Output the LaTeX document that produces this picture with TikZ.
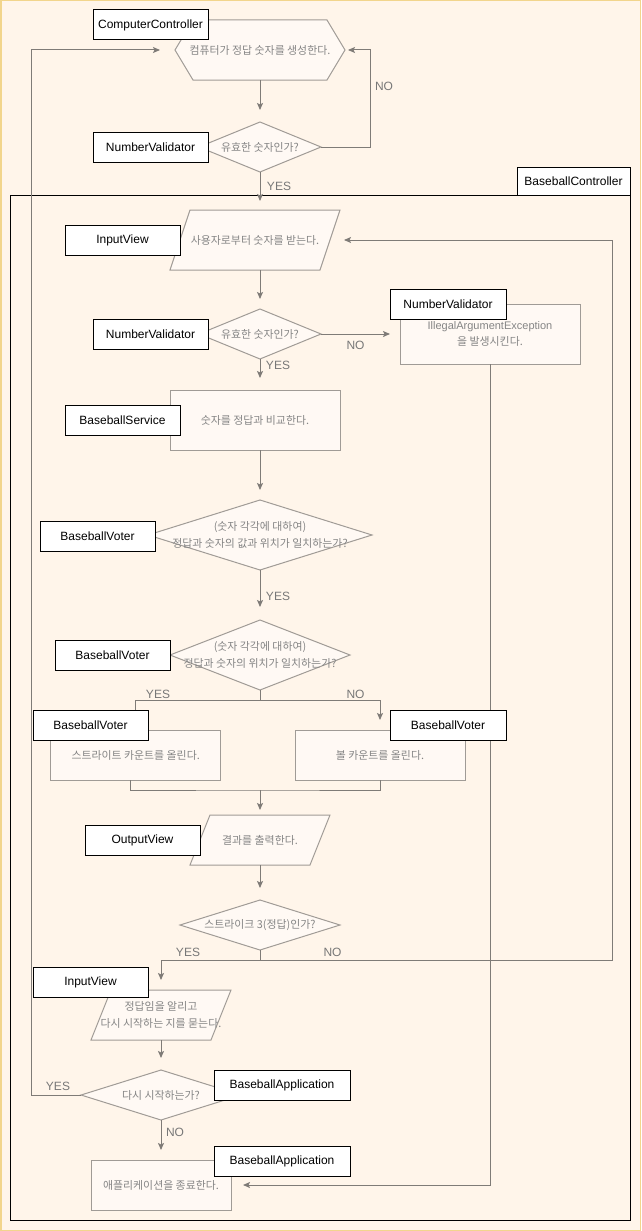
\documentclass[tikz,border=0pt]{standalone}
\usepackage{fontspec}
\setmainfont{Liberation Sans}
\newfontfamily\krfont{Noto Sans CJK KR}
\newfontfamily\latinfont{Liberation Sans}
\usetikzlibrary{arrows.meta}

\definecolor{pagebg}{HTML}{FFF5EA}
\definecolor{pageedge}{HTML}{F2D58C}
\definecolor{shapefill}{HTML}{FFF9F4}
\definecolor{shapeline}{HTML}{A09B96}
\definecolor{shapetext}{HTML}{858585}
\definecolor{wire}{HTML}{7F7B77}
\definecolor{ansc}{HTML}{777777}

\pgfdeclarelayer{back}
\pgfdeclarelayer{shapes}
\pgfsetlayers{back,shapes,main}

\newcommand\lat[1]{{\latinfont\fontsize{11}{16.5}\selectfont #1}}

\tikzset{
  lbl/.style={draw=black, fill=white, line width=1pt, inner sep=0pt, outer sep=0pt,
    minimum width=115pt, minimum height=30pt, font=\fontsize{12}{14}\selectfont, text=black},
  hold/.style={inner sep=0pt, outer sep=0pt, align=center, text=shapetext,
    font=\krfont\fontsize{10.9}{16.5}\selectfont},
  boxnode/.style={hold, draw=shapeline, fill=shapefill, line width=1pt},
  shp/.style={draw=shapeline, fill=shapefill, line width=1pt},
  wireln/.style={draw=wire, line width=1pt},
  arr/.style={wireln, -{Stealth[length=7pt,width=6pt,inset=1.5pt]}, shorten >=#1},
  arr/.default=10pt,
  ans/.style={text=ansc, font=\fontsize{12}{14}\selectfont, inner sep=0pt}
}

% outline helpers for shapes drawn around a named holder node
\newcommand\diamondof[1]{%
  \begin{pgfonlayer}{shapes}
    \path[shp] (#1.north) -- (#1.east) -- (#1.south) -- (#1.west) -- cycle;
  \end{pgfonlayer}}
\newcommand\slantof[2]{%
  \begin{pgfonlayer}{shapes}
    \path[shp] ([xshift=#2pt]#1.north west) -- (#1.north east)
      -- ([xshift=-#2pt]#1.south east) -- (#1.south west) -- cycle;
  \end{pgfonlayer}}
\newcommand\hexof[2]{%
  \begin{pgfonlayer}{shapes}
    \path[shp] (#1.west) -- ([xshift=#2pt]#1.north west) -- ([xshift=-#2pt]#1.north east)
      -- (#1.east) -- ([xshift=-#2pt]#1.south east) -- ([xshift=#2pt]#1.south west) -- cycle;
  \end{pgfonlayer}}

\begin{document}
\begin{tikzpicture}[x=1pt,y=-1pt]
\useasboundingbox (0,0) rectangle (641,1231);
\begin{pgfonlayer}{back}
  \fill[pagebg] (0,0) rectangle (641,1231);
  \draw[pageedge, line width=1.5pt] (0.75,0.75) rectangle (640.25,1230.25);
\end{pgfonlayer}

% controller frame
\node[draw=black, line width=1pt, inner sep=0pt, outer sep=0pt,
      minimum width=620pt, minimum height=1025pt] (frame) at (320,707.5) {};

% ---- flow shapes ----
\node[hold, minimum width=170pt, minimum height=60pt] (gen) at (260,50) {컴퓨터가 정답 숫자를 생성한다.};
\hexof{gen}{18}
\node[hold, minimum width=122pt, minimum height=50pt] (d1) at (260,147) {유효한 숫자인가?};
\diamondof{d1}
\node[hold, minimum width=170pt, minimum height=60pt] (in1) at (255,240) {사용자로부터 숫자를 받는다.};
\slantof{in1}{20}
\node[hold, minimum width=122pt, minimum height=50pt] (d2) at (260,334) {유효한 숫자인가?};
\diamondof{d2}
\node[boxnode, minimum width=180pt, minimum height=60pt] (exc) at (490,334) {\lat{IllegalArgumentException}\\을 발생시킨다.};
\node[boxnode, minimum width=170pt, minimum height=60pt] (svc) at (255,420) {숫자를 정답과 비교한다.};
\node[hold, minimum width=224pt, minimum height=70pt] (d3) at (260,535) {(숫자 각각에 대하여)\\정답과 숫자의 값과 위치가 일치하는가?};
\diamondof{d3}
\node[hold, minimum width=180pt, minimum height=70pt] (d4) at (260,655) {(숫자 각각에 대하여)\\정답과 숫자의 위치가 일치하는가?};
\diamondof{d4}
\node[boxnode, minimum width=170pt, minimum height=50pt] (strike) at (135.7,755) {스트라이트 카운트를 올린다.};
\node[boxnode, minimum width=170pt, minimum height=50pt] (ball) at (380,755) {볼 카운트를 올린다.};
\node[hold, minimum width=140pt, minimum height=50pt] (out) at (260,840) {결과를 출력한다.};
\slantof{out}{20}
\node[hold, minimum width=160pt, minimum height=50pt] (d5) at (260,925) {스트라이크 3(정답)인가?};
\diamondof{d5}
\node[hold, minimum width=140pt, minimum height=50pt] (ask) at (161,1015) {정답임을 알리고\\다시 시작하는 지를 묻는다.};
\slantof{ask}{20}
\node[hold, minimum width=160pt, minimum height=50pt] (d6) at (161,1095) {다시 시작하는가?};
\diamondof{d6}
\node[boxnode, minimum width=140pt, minimum height=50pt] (quit) at (161,1185) {애플리케이션을 종료한다.};

% ---- connectors ----
\coordinate (spine) at (260,0);
\coordinate (merge) at (260,790);
\coordinate (rim) at (612,960);
\draw[arr=12pt] (gen.south) -- (d1.north);
\draw[arr=3pt] (d1.east) -- ++(49,0) |- (gen.east);
\draw[arr=9pt] (d1.south) -- (d1.south |- in1.north);
\draw[arr=10pt] (in1.south -| spine) -- (d2.north);
\draw[arr=10pt] (d2.east) -- (exc.west);
\draw[arr=12pt] (d2.south) -- (d2.south |- svc.north);
\draw[arr=10pt] (svc.south -| spine) -- (d3.north);
\draw[arr=13pt] (d3.south) -- (d4.north);
\draw[arr] (d4.south) -- ++(0,10) -| (strike.north);
\draw[arr] (d4.south) -- ++(0,10) -| (ball.north);
\draw[wireln] ([xshift=-5pt]strike.south) |- (merge) -| (ball.south);
\draw[arr=5pt] (merge) -- (out.north);
\draw[arr=12pt] (out.south) -- (d5.north);
\draw[arr] (d5.south) -- ++(0,10) -| (ask.north);
\draw[arr=4pt] (d5.south) -- ++(0,10) -| (rim) |- (in1.east);
\draw[arr=12pt] (ask.south) -- (d6.north);
\draw[arr=15pt] (d6.west) -- ++(-50,0) |- (gen.west);
\draw[arr] (d6.south) -- (quit.north);
\draw[arr=12pt] (exc.south) |- (quit.east);

% ---- branch answers ----
\node[ans] at (384,86) {NO};
\node[ans] at (279,186) {YES};
\node[ans] at (355.5,345) {NO};
\node[ans] at (278,365) {YES};
\node[ans] at (278,596) {YES};
\node[ans] at (158,694) {YES};
\node[ans] at (355.5,694) {NO};
\node[ans] at (188,952) {YES};
\node[ans] at (332.5,952) {NO};
\node[ans] at (58,1086) {YES};
\node[ans] at (175,1132) {NO};

% ---- owner tags ----
\node[lbl] (lcc) at (150.5,25) {ComputerController};
\node[lbl] (lnv1) at (150.5,147) {NumberValidator};
\node[lbl, minimum width=113pt, minimum height=28pt] (lbc) at (573.5,181) {BaseballController};
\node[lbl] (liv1) at (122.5,240) {InputView};
\node[lbl] (lnv2) at (150.5,334) {NumberValidator};
\node[lbl, minimum width=116pt] (lnv3) at (448,304) {NumberValidator};
\node[lbl] (lbs) at (122.5,420) {BaseballService};
\node[lbl] (lbv1) at (97.5,536) {BaseballVoter};
\node[lbl] (lbv2) at (112.5,655) {BaseballVoter};
\node[lbl] (lbv3) at (90.5,725) {BaseballVoter};
\node[lbl, minimum width=116pt] (lbv4) at (448,725) {BaseballVoter};
\node[lbl] (lov) at (142.5,840) {OutputView};
\node[lbl] (liv2) at (90.5,982) {InputView};
\node[lbl, minimum width=136pt] (lba1) at (282,1085.5) {BaseballApplication};
\node[lbl, minimum width=136pt] (lba2) at (282,1161.5) {BaseballApplication};
\end{tikzpicture}
\end{document}
